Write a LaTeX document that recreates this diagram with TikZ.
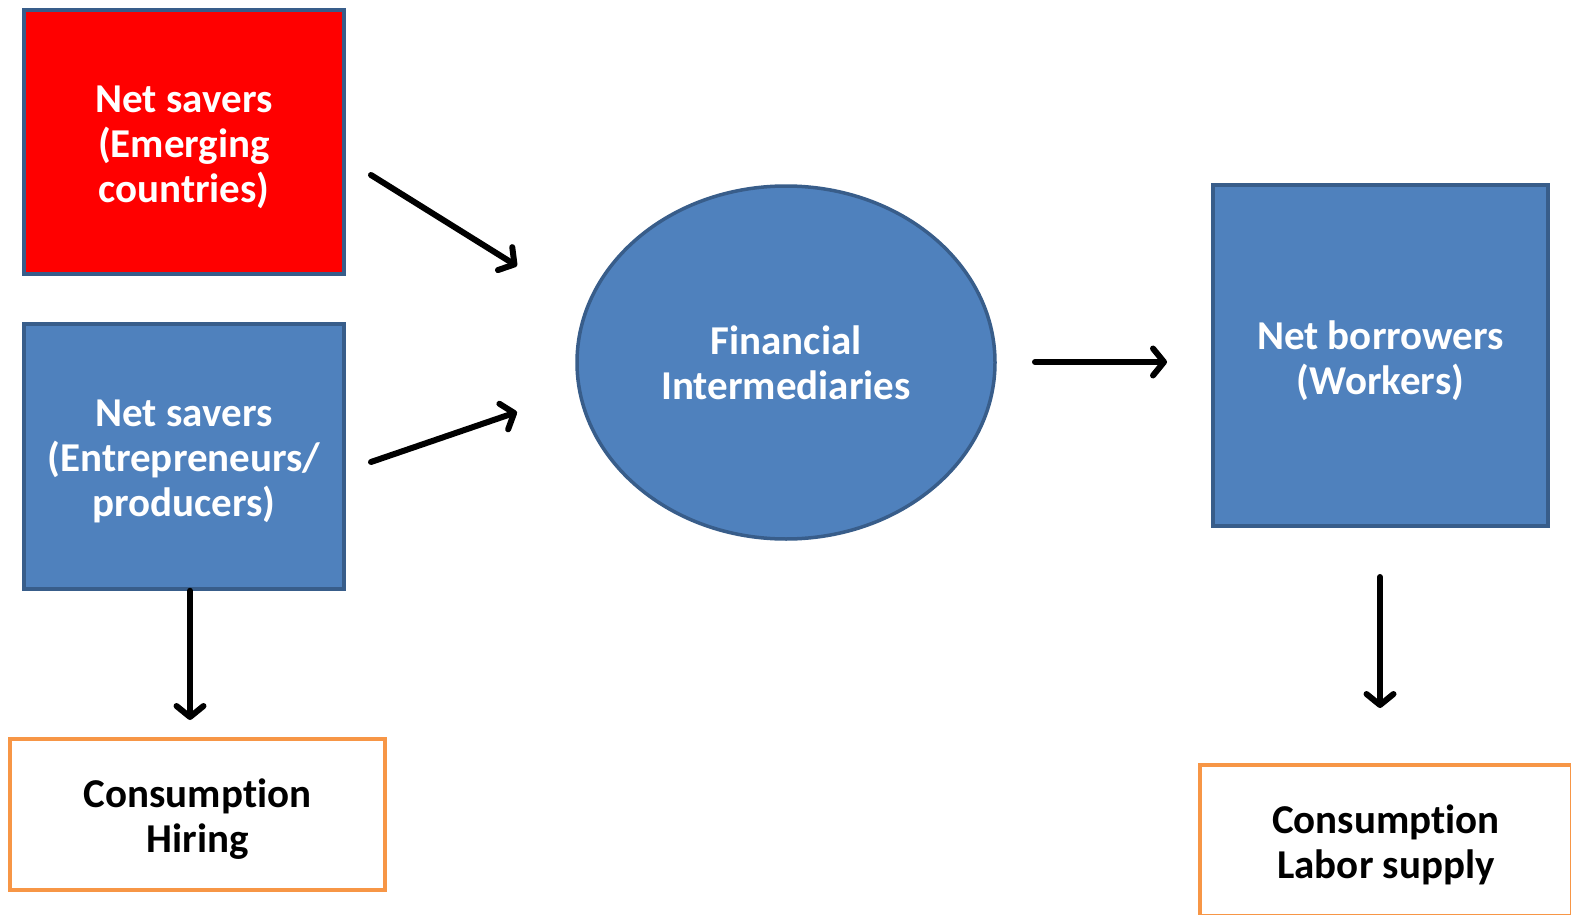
\documentclass[tikz,border=0pt]{standalone}
\usepackage{fontspec}
\setmainfont{Carlito}[RawFeature={-liga}]
\usetikzlibrary{arrows.meta,shapes.geometric}
\definecolor{boxblue}{HTML}{4F81BD}
\definecolor{edgeblue}{HTML}{385D8A}
\definecolor{boxred}{HTML}{FF0000}
\definecolor{boxorange}{HTML}{F79646}
\tikzset{
  txt/.style={align=center, font=\fontsize{41}{45}\selectfont\bfseries, inner sep=0pt},
  wtxt/.style={txt, text=white, yshift=-5pt},
  btxt/.style={txt, text=black, yshift=-5pt},
  bluebox/.style={draw=edgeblue, line width=3.5pt, fill=boxblue, inner sep=0pt},
  redbox/.style={bluebox, fill=boxred},
  orangebox/.style={draw=boxorange, line width=4pt, fill=white, inner sep=0pt},
  flow/.style={line width=6pt, line cap=round, -{Straight Barb[length=11pt,width=27pt,round]}}
}
\begin{document}
\begin{tikzpicture}[x=1pt,y=-1pt]
\useasboundingbox (0,0) rectangle (1571,915);
\node[redbox, minimum width=320pt, minimum height=264pt,
  label={[wtxt]center:Net savers\\(Emerging\\countries)}] (es) at (184,142) {};
\node[bluebox, minimum width=320pt, minimum height=265pt,
  label={[wtxt]center:Net savers\\(Entrepreneurs/\\producers)}] (ep) at (184,456.5) {};
\node[bluebox, shape=ellipse, minimum width=418pt, minimum height=353pt,
  label={[wtxt, yshift=5pt]center:Financial\\Intermediaries}] (fi) at (786,362.5) {};
\node[bluebox, minimum width=335pt, minimum height=341pt,
  label={[wtxt]center:Net borrowers\\(Workers)}] (nb) at (1380.5,355.5) {};
\node[orangebox, minimum width=375pt, minimum height=151pt,
  label={[btxt]center:Consumption\\Hiring}] (c1) at (197.5,814.5) {};
\node[orangebox, minimum width=372pt, minimum height=151pt,
  label={[btxt]center:Consumption\\Labor supply}] (c2) at (1386,840) {};
\coordinate (a1s) at (371,175); \coordinate (a1e) at (517,266);
\coordinate (a2s) at (371,462); \coordinate (a2e) at (517,412);
\coordinate (a3s) at (1035,362); \coordinate (a3e) at (1167,362);
\coordinate (a4e) at (190,720);
\coordinate (a5s) at (1380,577); \coordinate (a5e) at (1380,708);
\draw[flow] (a1s) -- (a1e);
\draw[flow] (a2s) -- (a2e);
\draw[flow] (a3s) -- (a3e);
\draw[flow] (ep.south -| a4e) -- (a4e);
\draw[flow] (a5s) -- (a5e);
\end{tikzpicture}
\end{document}
